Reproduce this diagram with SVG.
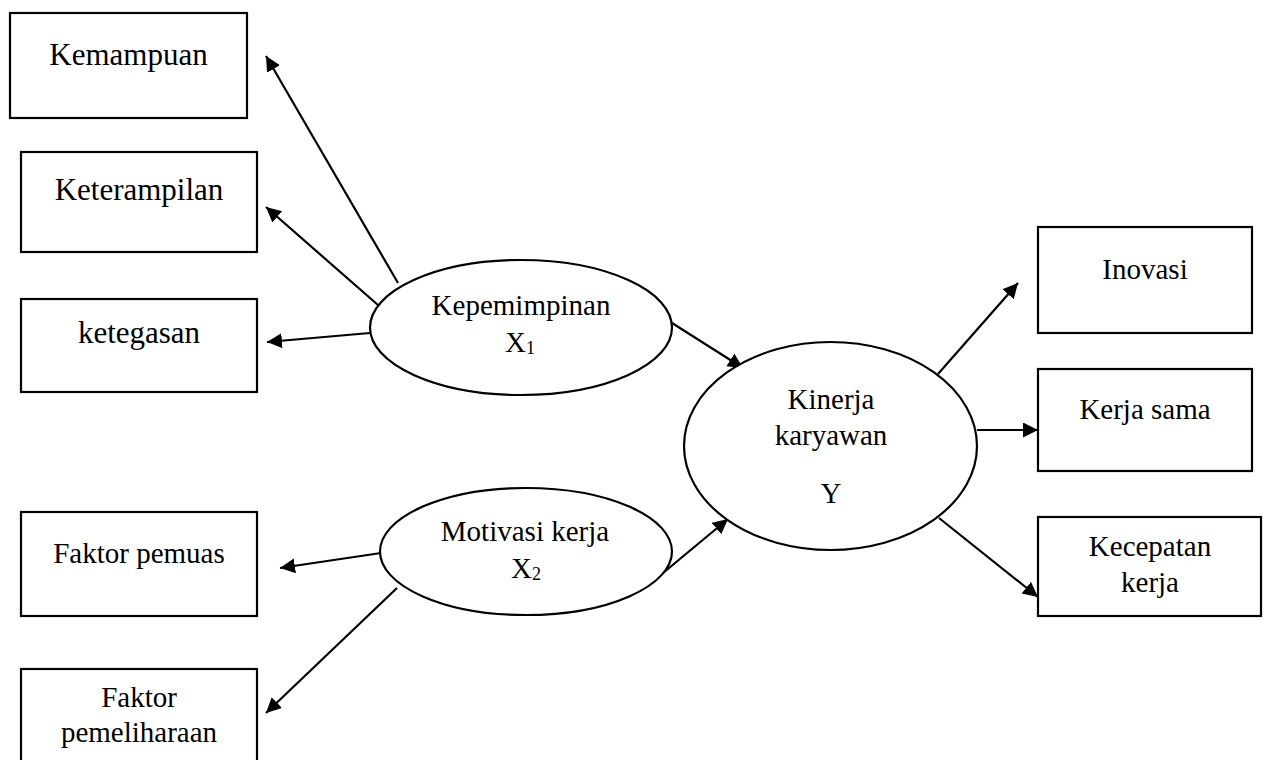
<svg xmlns="http://www.w3.org/2000/svg" width="1268" height="760" viewBox="0 0 1268 760">
<style>
.box{fill:#fff;stroke:#000;stroke-width:2.2}
.ell{fill:#fff;stroke:#000;stroke-width:2.2}
.t{font-family:"Liberation Serif","Times New Roman",serif;font-size:29px;fill:#000;text-anchor:middle}
.tb{font-size:31px}
.sub{font-size:18px}
.c line{stroke:#000;stroke-width:2.2;marker-end:url(#ah)}
</style>
<defs>
<marker id="ah" markerUnits="userSpaceOnUse" markerWidth="16" markerHeight="16" refX="15" refY="7.5" orient="auto">
<path d="M0,0 L15,7.5 L0,15 z" fill="#000"/>
</marker>
</defs>
<rect width="1268" height="760" fill="#fff"/>
<g id="connectors" class="c">
<line x1="398" y1="283" x2="266" y2="56"/>
<line x1="378" y1="305" x2="266" y2="207"/>
<line x1="370" y1="333" x2="267" y2="342"/>
<line x1="381" y1="553" x2="280" y2="568"/>
<line x1="397" y1="588" x2="266" y2="713"/>
<line x1="672" y1="323" x2="743" y2="368"/>
<line x1="657" y1="578" x2="728" y2="519"/>
<line x1="938" y1="374" x2="1018" y2="283"/>
<line x1="977" y1="430" x2="1038" y2="430"/>
<line x1="939" y1="518" x2="1038" y2="597"/>
</g>
<g id="kemampuan"><rect class="box" x="10" y="13" width="237" height="105"/><text class="t tb" x="128.5" y="65">Kemampuan</text></g>
<g id="keterampilan"><rect class="box" x="21" y="152" width="236" height="100"/><text class="t tb" x="139" y="200">Keterampilan</text></g>
<g id="ketegasan"><rect class="box" x="21" y="299" width="236" height="93"/><text class="t tb" x="139" y="343">ketegasan</text></g>
<g id="faktor-pemuas"><rect class="box" x="21" y="512" width="236" height="104"/><text class="t" x="139" y="563">Faktor pemuas</text></g>
<g id="faktor-pemeliharaan"><rect class="box" x="21" y="669" width="236" height="110"/><text class="t" x="139" y="707">Faktor</text><text class="t" x="139" y="742">pemeliharaan</text></g>
<g id="kepemimpinan"><ellipse class="ell" cx="521" cy="327.5" rx="151" ry="67.5"/><text class="t" x="521" y="315">Kepemimpinan</text><text class="t" x="520" y="352">X<tspan class="sub" dy="2">1</tspan></text></g>
<g id="motivasi"><ellipse class="ell" cx="526" cy="551.5" rx="146" ry="63.5"/><text class="t" x="525" y="541">Motivasi kerja</text><text class="t" x="526" y="578">X<tspan class="sub" dy="2">2</tspan></text></g>
<g id="kinerja"><ellipse class="ell" cx="830.5" cy="446" rx="146.5" ry="104"/><text class="t" x="831" y="409">Kinerja</text><text class="t" x="831" y="445">karyawan</text><text class="t" x="831" y="503">Y</text></g>
<g id="inovasi"><rect class="box" x="1038" y="227" width="214" height="106"/><text class="t" x="1145" y="279">Inovasi</text></g>
<g id="kerja-sama"><rect class="box" x="1038" y="369" width="214" height="102"/><text class="t" x="1145" y="419">Kerja sama</text></g>
<g id="kecepatan"><rect class="box" x="1038" y="517" width="223" height="99"/><text class="t" x="1150" y="556">Kecepatan</text><text class="t" x="1150" y="592">kerja</text></g>
</svg>
